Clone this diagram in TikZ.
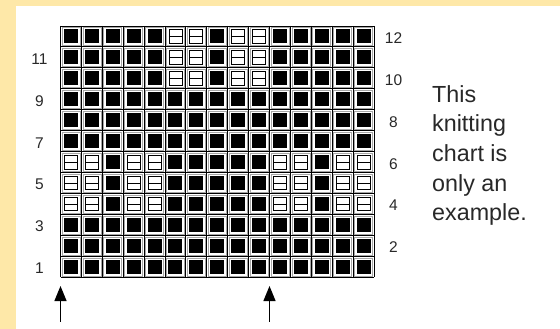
\documentclass[tikz,border=0pt]{standalone}
\usepackage{fontspec}
\setmainfont{Liberation Sans}
\usetikzlibrary{arrows.meta}
\definecolor{beige}{RGB}{254,232,168}
\definecolor{txt}{RGB}{40,40,40}
\tikzset{
  gridline/.style={line width=0.9pt, black},
  cellframe/.style={line width=0.7pt, black!35},
  purl/.style={line width=0.9pt, black},
  num/.style={inner sep=0pt, text=txt, font=\fontsize{15.5}{17}\selectfont},
  note/.style={anchor=north west, inner sep=0pt, align=left, text=txt, font=\fontsize{23.3}{29.7}\selectfont},
  arr/.style={line width=1.3pt, -{Triangle[width=12pt,length=15pt]}}
}
\begin{document}
\begin{tikzpicture}[x=1pt,y=-1pt]
\useasboundingbox (0,0) rectangle (560,329);
\fill[beige] (0,0) rectangle (560,329);
\fill[white] (16,6) rectangle (560,329);
% cells
\foreach \r in {1,...,12}{
  \foreach \c in {1,...,15}{
    \pgfmathsetmacro\cx{60.5+(\c-0.5)*20.9}
    \pgfmathsetmacro\cy{26+(12-\r+0.5)*20.95}
    \pgfmathtruncatemacro\s{((\r>=4)&&(\r<=6)&&(\c!=3)&&(\c!=13)&&((\c<=5)||(\c>=11))) || ((\r>=10)&&(\c>=6)&&(\c<=10)&&(\c!=8))}
    \draw[cellframe] (\cx-9,\cy-9) rectangle (\cx+9,\cy+9);
    \ifnum\s=1
      \draw[purl] (\cx-6.5,\cy-6.8) rectangle (\cx+6.5,\cy+6.8) (\cx-6.5,\cy) -- (\cx+6.5,\cy);
    \else
      \fill[black] (\cx-7,\cy-7) rectangle (\cx+7,\cy+7);
    \fi
  }
}
% grid
\foreach \c in {0,...,15} \draw[gridline] ({60.5+\c*20.9},26) -- ({60.5+\c*20.9},277.4);
\foreach \r in {0,...,12} \draw[gridline] (60.5,{26+\r*20.95}) -- (374,{26+\r*20.95});
% row numbers
\foreach \r in {1,3,...,11} \node[num] (l\r) at (39.5,{26+(12-\r+0.5)*20.95+1.5}) {\r};
\foreach \r in {2,4,...,12} \node[num] (l\r) at (393.5,{26+(12-\r+0.5)*20.95+1.5}) {\r};
% note
\node[note] (notetext) at (432,85) {This\\knitting\\chart is\\only an\\example.};
% arrows
\coordinate (a1s) at (60.5,321.5);
\coordinate (a1e) at (60.5,286);
\coordinate (a2s) at (269.5,321.5);
\coordinate (a2e) at (269.5,286);
\draw[arr] (a1s) -- (a1e);
\draw[arr] (a2s) -- (a2e);
\end{tikzpicture}
\end{document}
